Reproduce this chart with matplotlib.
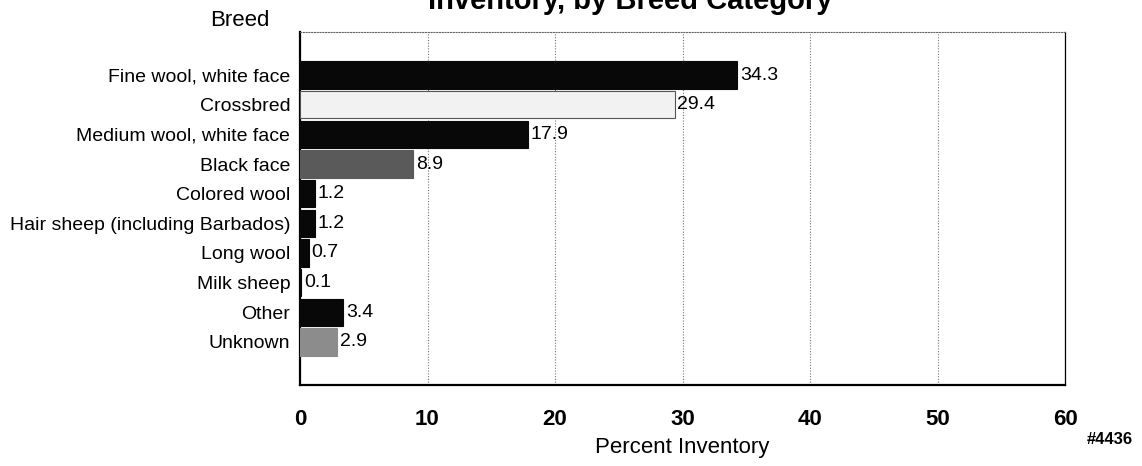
import matplotlib
matplotlib.use("Agg")
import matplotlib.pyplot as plt
import numpy as np

plt.rcParams['font.family'] = ['Liberation Sans', 'DejaVu Sans']

breeds = ["Fine wool, white face", "Crossbred", "Medium wool, white face", "Black face",
          "Colored wool", "Hair sheep (including Barbados)", "Long wool", "Milk sheep",
          "Other", "Unknown"]
percent = [34.3, 29.4, 17.9, 8.9, 1.2, 1.2, 0.7, 0.1, 3.4, 2.9]
colors = ["#080808", "#f2f2f2", "#080808", "#5a5a5a", "#080808", "#080808",
          "#080808", "#080808", "#080808", "#8c8c8c"]
xticks = [0, 10, 20, 30, 40, 50, 60]

fig = plt.figure(figsize=(11.42, 4.66), dpi=100)
ax = fig.add_axes([300/1142, 1 - 385/466, (1065-300)/1142, (385-32)/466])

ypos = np.arange(len(breeds))
bars = ax.barh(ypos, percent, height=0.92, color=colors, edgecolor=colors, linewidth=0.8, zorder=3)
bars[1].set_edgecolor("#555555")

for y, v in zip(ypos, percent):
    ax.text(v + 0.2, y, f"{v}", va="center", ha="left", fontsize=14, zorder=4)

ax.set_xlim(0, 60)
ax.set_ylim(10.45, -1.45)
ax.set_yticks(ypos)
ax.set_yticklabels(breeds, fontsize=14)
ax.tick_params(axis="y", length=0, pad=7)
ax.set_xticks(xticks)
ax.set_xticklabels([str(t) for t in xticks], fontsize=16, fontweight="bold")
ax.tick_params(axis="x", length=0, pad=17)

ax.grid(axis="x", linestyle=(0, (1, 1.5)), color="#777777", linewidth=0.8, zorder=0)
ax.spines["left"].set_linewidth(1.6)
ax.spines["bottom"].set_linewidth(1.6)
ax.spines["right"].set_linewidth(0.9)
ax.spines["top"].set_linestyle((0, (1, 1.5)))
ax.spines["top"].set_color("#666666")
ax.spines["top"].set_linewidth(0.8)

ax.set_xlabel("Percent Inventory", fontsize=16, labelpad=5)
fig.text(240/1142, 1 - 20/466, "Breed", fontsize=16, ha="center", va="center")
fig.text(1110/1142, 1 - 440/466, "#4436", fontsize=12, fontweight="bold", ha="center", va="center")
fig.text(630/1142, 1 - 1/466, "Inventory, by Breed Category", fontsize=21, fontweight="bold",
         ha="center", va="center")

fig.savefig("out.png", dpi=100)
